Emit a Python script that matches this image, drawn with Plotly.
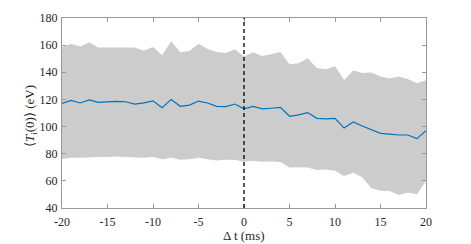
import plotly.graph_objects as go

dt = list(range(-20, 21))
mean_ti = [117.1, 119.3, 117.4, 119.6, 117.9, 118.3, 118.5, 118.3, 116.6, 117.5,
           119.0, 113.9, 120.0, 114.9, 115.8, 118.8, 117.4, 114.9, 114.7, 116.6,
           113.1, 114.9, 113.0, 113.5, 114.1, 107.6, 108.6, 110.3, 106.1, 105.6,
           106.1, 98.9, 103.4, 100.4, 97.5, 95.0, 94.5, 93.8, 93.8, 91.1, 97.0]
upper_ti = [158.4, 161.1, 159.0, 162.0, 158.2, 158.2, 158.7, 158.7, 158.2, 155.9,
            158.7, 152.5, 162.8, 154.7, 155.7, 161.1, 157.2, 155.0, 154.3, 156.9,
            151.6, 154.7, 152.0, 153.2, 155.0, 145.9, 146.7, 150.3, 143.2, 142.2,
            144.5, 134.3, 141.3, 139.4, 139.9, 136.9, 135.5, 136.9, 135.0, 131.9, 134.1]
lower_ti = [76.1, 77.0, 77.0, 77.5, 77.5, 77.5, 78.0, 77.5, 77.0, 77.0,
            77.5, 76.0, 77.0, 75.5, 76.0, 77.0, 76.0, 75.0, 75.5, 75.5,
            74.1, 74.9, 74.0, 74.3, 73.9, 69.9, 70.1, 69.9, 68.0, 68.4,
            67.5, 63.6, 65.9, 62.6, 54.5, 52.8, 52.6, 49.6, 51.4, 50.2, 59.9]
event_time = 0
x_ticks = [-20, -15, -10, -5, 0, 5, 10, 15, 20]
y_ticks = [40, 60, 80, 100, 120, 140, 160, 180]
x_title = "Δ t (ms)"
y_title = "⟨<i>T</i><sub>i</sub>(0)⟩ (eV)"

SERIF = "Liberation Serif"
TXT = "#262626"

fig = go.Figure()
fig.add_trace(go.Scatter(x=dt, y=upper_ti, mode="lines", line=dict(width=0),
                         hoverinfo="skip", showlegend=False))
fig.add_trace(go.Scatter(x=dt, y=lower_ti, mode="lines", line=dict(width=0),
                         fill="tonexty", fillcolor="#cccccc",
                         hoverinfo="skip", showlegend=False))
fig.add_trace(go.Scatter(x=dt, y=mean_ti, mode="lines",
                         line=dict(color="#0072BD", width=1.2), showlegend=False))
fig.add_shape(type="line", x0=event_time, x1=event_time, y0=0, y1=1,
              xref="x", yref="paper", line=dict(color="black", width=1.3, dash="4px,3px"))

axis_common = dict(showline=True, mirror="ticks", linecolor="#999999", linewidth=1,
                   ticks="inside", ticklen=4, tickcolor="#999999", showgrid=False,
                   zeroline=False, automargin=False)

fig.update_layout(
    width=463, height=236,
    margin=dict(l=54, r=45, t=10, b=36),
    plot_bgcolor="white", paper_bgcolor="white",
    font=dict(family=SERIF, color=TXT),
    xaxis=dict(range=[-20, 20], tickvals=x_ticks, ticktext=[str(v) for v in x_ticks],
               tickfont=dict(family=SERIF, size=12, color=TXT), ticklabelstandoff=3,
               **axis_common),
    yaxis=dict(range=[40, 180], tickvals=y_ticks, ticktext=[str(v) for v in y_ticks],
               tickfont=dict(family=SERIF, size=12, color=TXT), ticklabelstandoff=1,
               **axis_common),
    annotations=[
        dict(text=x_title, xref="paper", yref="paper", x=0.5, y=0,
             xanchor="center", yanchor="middle", yshift=-27, showarrow=False,
             font=dict(family=SERIF, size=13, color=TXT)),
        dict(text=y_title, xref="paper", yref="paper", x=0, y=0.5,
             xanchor="center", yanchor="middle", xshift=-32, yshift=-3,
             textangle=-90, showarrow=False,
             font=dict(family=SERIF, size=13, color=TXT)),
    ],
)

fig.write_html("out.html")
